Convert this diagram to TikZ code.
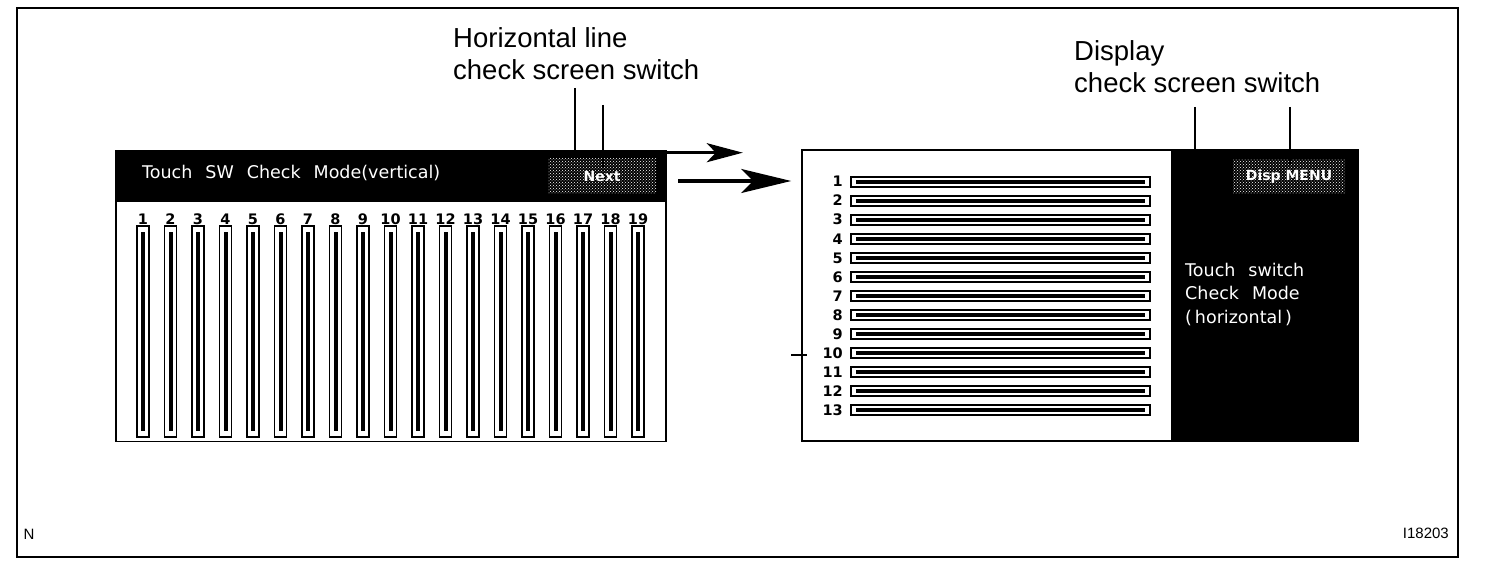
\documentclass[tikz,border=0pt]{standalone}
\usepackage{fontspec}
\setmainfont{Liberation Sans}
\newfontfamily\scrfont{DejaVu Sans}
\newcommand\scrspace{\fontdimen2\font=13pt\relax}
\usetikzlibrary{arrows.meta,patterns}
\tikzset{
  screen/.style  = {draw, line width=1.6pt, inner sep=0pt, minimum height=291pt},
  band/.style    = {fill=black, inner sep=0pt},
  swbtn/.style   = {preaction={fill=black}, pattern=crosshatch dots, pattern color=white,
                    inner sep=0pt, text=white, font=\scrfont\bfseries\fontsize{14}{14}\selectfont},
  scrtxt/.style  = {text=white, inner sep=0pt, align=left,
                    font=\scrfont\fontsize{17.5}{23.5}\selectfont\scrspace},
  numlbl/.style  = {inner sep=0pt, anchor=base, font=\scrfont\bfseries\fontsize{14.5}{14.5}\selectfont},
  barout/.style  = {draw, line width=1.7pt, inner sep=0pt},
  barin/.style   = {fill=black, inner sep=0pt},
  callout/.style = {inner sep=0pt, align=left, font=\fontsize{27.5}{32}\selectfont},
  leader/.style  = {line width=1.2pt},
  flow/.style    = {line width=3.2pt},
}

\begin{document}
\begin{tikzpicture}[x=1pt,y=-1pt]
  \useasboundingbox (0,0) rectangle (1504,580);
  % outer frame
  \draw[line width=2.5pt] (17,8) rectangle (1458,557);
  % left screen: vertical check mode
  \node[screen, minimum width=550pt] (lscr) at (391,296) {};
  \node[band, minimum width=550pt, minimum height=52pt, anchor=north] (lhead) at (lscr.north) {};
  \node[scrtxt, anchor=base west] (ltitle) at (142,179) {Touch SW Check Mode(vertical)};
  \node[swbtn, minimum width=108pt, minimum height=35pt] (next) at (602,176) {Next};
  \foreach \i in {1,...,19}{
    \pgfmathsetmacro\bx{143+(\i-1)*27.5}
    \node[numlbl] (vn\i) at (\bx,224) {\i};
    \node[barout, minimum width=12pt, minimum height=211pt] (vb\i) at (\bx,331.5) {};
    \node[barin, minimum width=4pt, minimum height=199pt] (vbi\i) at (vb\i) {};
  }
  % right screen: horizontal check mode
  \node[screen, minimum width=556pt] (rscr) at (1080,295.5) {};
  \node[band, minimum width=188pt, minimum height=291pt, anchor=north east] (rpanel) at (rscr.north east) {};
  \node[swbtn, minimum width=112pt, minimum height=34pt] (dmenu) at (1289,177) {Disp MENU};
  \node[scrtxt, anchor=north west] (rtitle) at (1185,263) {Touch switch\\Check Mode\\(\,horizontal\,)};
  \foreach \j in {1,...,13}{
    \pgfmathsetmacro\by{182+(\j-1)*19}
    \node[numlbl, anchor=base east] (hn\j) at (843,\by+5) {\j};
    \node[barout, minimum width=299pt, minimum height=10pt] (hb\j) at (1000.5,\by) {};
    \node[barin, minimum width=289pt, minimum height=3.5pt] (hbi\j) at (hb\j) {};
  }
  % callouts and leaders
  \node[callout, anchor=north west] (hlbl) at (453,27) {Horizontal line\\check screen switch};
  \node[callout, anchor=north west] (dlbl) at (1074,40) {Display\\check screen switch};
  \coordinate (ldA) at (575,88);
  \coordinate (ldB) at (603,105);
  \coordinate (ldC) at (1195,107);
  \coordinate (ldD) at (1290,107);
  \coordinate (ld10) at (791,355);
  \draw[leader] (ldA) -- (ldA |- lscr.north);
  \draw[leader, shorten >=9pt] (ldB) -- (ldB |- next.center);
  \draw[leader] (ldC) -- (ldC |- rscr.north);
  \draw[leader, shorten >=12pt] (ldD) -- (ldD |- dmenu.center);
  \draw[leader] (ld10) -- ++(16,0);
  % transition arrows
  \coordinate (alow) at (678,181);
  \draw[flow, -{Stealth[length=36pt, width=19pt, inset=9pt]}] ([yshift=-3pt]lscr.north east) -- ++(76,0);
  \draw[flow, -{Stealth[length=50pt, width=24pt, inset=12pt]}, shorten >=10pt] (alow) -- (alow -| rscr.west);
  % drawing codes
  \node[font=\fontsize{15}{15}\selectfont, inner sep=0pt] (ncode) at (29,534) {N};
  \node[font=\fontsize{15}{15}\selectfont, inner sep=0pt, anchor=east] (figno) at (1449,533) {I18203};
\end{tikzpicture}
\end{document}
